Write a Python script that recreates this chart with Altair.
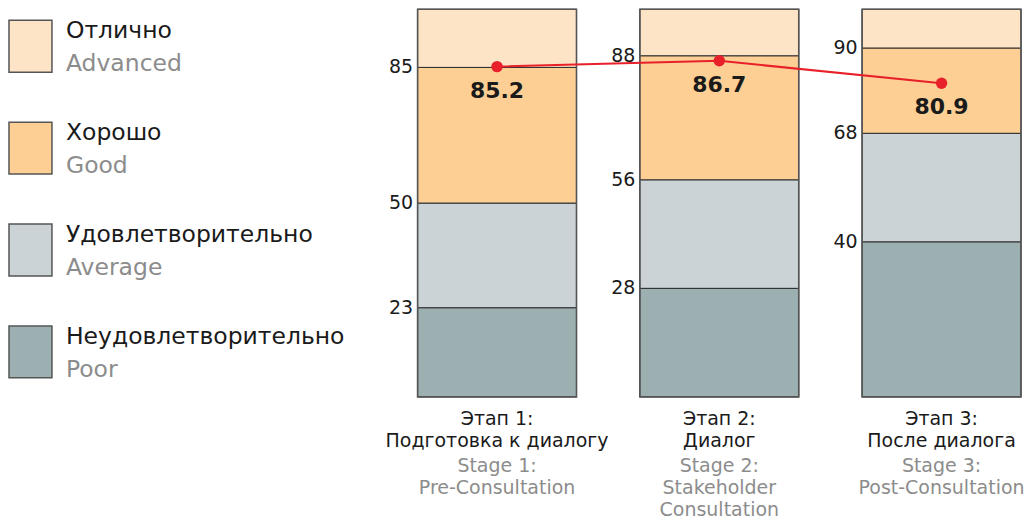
import altair as alt
import pandas as pd

# ---- data ----
stage_ids = ["s1", "s2", "s3"]
stage_ru_1 = ["Этап 1:", "Этап 2:", "Этап 3:"]
stage_ru_2 = ["Подготовка к диалогу", "Диалог", "После диалога"]
stage_en_1 = ["Stage 1:", "Stage 2:", "Stage 3:"]
stage_en_2 = ["Pre-Consultation", "Stakeholder", "Post-Consultation"]
stage_en_3 = ["", "Consultation", ""]

poor_top = [23, 28, 40]
average_top = [50, 56, 68]
good_top = [85, 88, 90]
scale_top = [100, 100, 100]
scores = [85.2, 86.7, 80.9]

levels = ["Advanced", "Good", "Average", "Poor"]
levels_ru = ["Отлично", "Хорошо", "Удовлетворительно", "Неудовлетворительно"]
level_colors = ["#fee4c6", "#fdcf94", "#cbd3d6", "#9cb0b2"]

FONT = "DejaVu Sans"

# ---- tables ----
seg_rows = []
for i, s in enumerate(stage_ids):
    bounds = [0, poor_top[i], average_top[i], good_top[i], scale_top[i]]
    for lvl, a, b in zip(["Poor", "Average", "Good", "Advanced"], bounds[:-1], bounds[1:]):
        seg_rows.append({"stage": s, "level": lvl, "start": a, "end": b})
seg = pd.DataFrame(seg_rows)

tick_rows = []
for i, s in enumerate(stage_ids):
    for v in [poor_top[i], average_top[i], good_top[i]]:
        tick_rows.append({"stage": s, "value": v, "label": str(v)})
ticks = pd.DataFrame(tick_rows)

score_df = pd.DataFrame({"stage": stage_ids, "score": scores,
                         "label": [f"{v:.1f}" for v in scores]})
frame_df = pd.DataFrame({"stage": stage_ids, "lo": [0, 0, 0], "hi": scale_top})

label_df = pd.DataFrame({"stage": stage_ids, "ru1": stage_ru_1, "ru2": stage_ru_2,
                         "en1": stage_en_1, "en2": stage_en_2, "en3": stage_en_3})

legend_df = pd.DataFrame({"level": levels, "ru": levels_ru})

# ---- main panel ----
W, H = 604, 388
x_enc = alt.X("stage:N", sort=stage_ids, axis=None,
              scale=alt.Scale(paddingInner=0.285, paddingOuter=0))
y_scale = alt.Scale(domain=[0, 100], nice=False, zero=True)

color_scale = alt.Scale(domain=levels, range=level_colors)

bars = alt.Chart(seg).mark_bar(stroke="#2a2a2a", strokeWidth=1, cornerRadius=0).encode(
    x=x_enc,
    y=alt.Y("start:Q", scale=y_scale, axis=None),
    y2="end:Q",
    color=alt.Color("level:N", scale=color_scale, legend=None),
)

frame = alt.Chart(frame_df).mark_bar(fillOpacity=0, stroke="#555555", strokeWidth=1.6).encode(
    x=x_enc,
    y=alt.Y("lo:Q", scale=y_scale, axis=None),
    y2="hi:Q",
)

tick_text = alt.Chart(ticks).mark_text(
    align="right", baseline="middle", dx=-84, fontSize=19, font=FONT, color="#1a1a1a"
).encode(x=x_enc, y=alt.Y("value:Q", scale=y_scale, axis=None), text="label:N")

line = alt.Chart(score_df).mark_line(color="#e8202a", strokeWidth=2).encode(
    x=x_enc, y=alt.Y("score:Q", scale=y_scale, axis=None))
dots = alt.Chart(score_df).mark_circle(color="#e8202a", size=130, opacity=1).encode(
    x=x_enc, y=alt.Y("score:Q", scale=y_scale, axis=None))
score_text = alt.Chart(score_df).mark_text(
    baseline="middle", dy=24, fontSize=22, fontWeight="bold", font=FONT, color="#1a1a1a"
).encode(x=x_enc, y=alt.Y("score:Q", scale=y_scale, axis=None), text="label:N")

label_layers = []
for col, ypos, colr in [("ru1", 410, "#1a1a1a"), ("ru2", 432, "#1a1a1a"),
                        ("en1", 457, "#8c8c8c"), ("en2", 479, "#8c8c8c"),
                        ("en3", 501, "#8c8c8c")]:
    label_layers.append(
        alt.Chart(label_df).mark_text(baseline="middle", fontSize=19, font=FONT, color=colr)
        .encode(x=x_enc, y=alt.value(ypos), text=f"{col}:N")
    )

main = alt.layer(bars, frame, line, dots, score_text, tick_text, *label_layers).properties(
    width=W, height=H)

# ---- legend panel ----
ly = alt.Y("level:N", sort=levels, axis=None,
           scale=alt.Scale(paddingInner=0.49, paddingOuter=0.108))
swatch = alt.Chart(legend_df).mark_rect(stroke="#555555", strokeWidth=1.5).encode(
    y=ly, x=alt.value(0), x2=alt.value(43),
    color=alt.Color("level:N", scale=color_scale, legend=None))
leg_ru = alt.Chart(legend_df).mark_text(
    align="left", baseline="alphabetic", dy=-8, fontSize=23.5, font=FONT, color="#1a1a1a"
).encode(y=ly, x=alt.value(57), text="ru:N")
leg_en = alt.Chart(legend_df).mark_text(
    align="left", baseline="alphabetic", dy=25, fontSize=23.5, font=FONT, color="#8c8c8c"
).encode(y=ly, x=alt.value(57), text="level:N")

legend = alt.layer(swatch, leg_ru, leg_en).properties(width=360, height=380)

chart = alt.hconcat(legend, main, spacing=49, bounds="flush").properties(
    padding=0
).configure_view(strokeWidth=0)

chart.save("out.html", embed_options={"renderer": "svg", "actions": False})
